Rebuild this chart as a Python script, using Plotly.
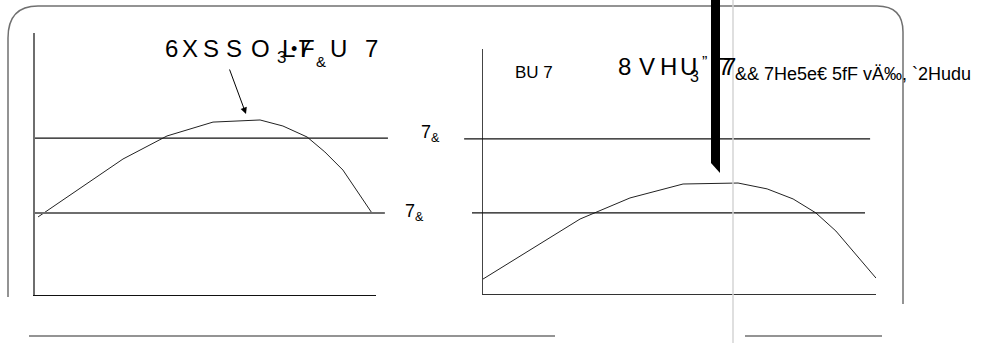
import plotly.graph_objects as go

W, H = 993, 343

# curve values (arbitrary units)
left_x = [0.9, 25.8, 38.7, 52.2, 66.0, 72.7, 79.8, 85.0, 90.3, 98.8]
left_y = [29.8, 51.9, 60.7, 66.0, 66.8, 64.5, 60.3, 54.6, 47.7, 31.3]
left_levels = [59.9, 31.3]

right_x = [0, 24.7, 37.4, 50.9, 64.9, 72.3, 78.9, 84.7, 89.8, 100]
right_y = [6.1, 30.6, 39.2, 44.9, 45.3, 42.9, 38.8, 33.1, 25.7, 6.5]
right_levels = [63.3, 33.1]

level_label = "7<sub>&amp;</sub>"


def px(x):
    return x / W


def py(y):
    return 1 - y / H


fig = go.Figure()
fig.add_trace(go.Scatter(x=left_x, y=left_y, mode="lines",
                         line=dict(color="#222", width=1), xaxis="x", yaxis="y"))
fig.add_trace(go.Scatter(x=right_x, y=right_y, mode="lines",
                         line=dict(color="#222", width=1), xaxis="x2", yaxis="y2"))

ax_common = dict(showgrid=False, zeroline=False, showticklabels=False, ticks="",
                 range=[0, 100], fixedrange=True)
fig.update_layout(
    width=W, height=H, margin=dict(l=0, r=0, t=0, b=0),
    paper_bgcolor="white", plot_bgcolor="rgba(0,0,0,0)", showlegend=False,
    font=dict(family="Liberation Sans, Arial, sans-serif", color="black"),
    xaxis=dict(domain=[px(35), px(376)], anchor="y", showline=True,
               linecolor="#111", linewidth=1.3, **ax_common),
    yaxis=dict(domain=[py(295), py(33)], anchor="x", showline=True,
               linecolor="#6e6e6e", linewidth=2, **ax_common),
    xaxis2=dict(domain=[px(483), px(876)], anchor="y2", showline=True,
                linecolor="#333", linewidth=1.3, **ax_common),
    yaxis2=dict(domain=[py(294), py(49)], anchor="x2", showline=True,
                linecolor="#444", linewidth=1.3, **ax_common),
)

shapes = []
# threshold lines
shapes.append(dict(type="line", xref="x domain", yref="y", x0=0, x1=1.035,
                   y0=left_levels[0], y1=left_levels[0], line=dict(color="#111", width=1.3)))
shapes.append(dict(type="line", xref="x domain", yref="y", x0=0, x1=1.026,
                   y0=left_levels[1], y1=left_levels[1], line=dict(color="#6e6e6e", width=1.8)))
shapes.append(dict(type="line", xref="x2 domain", yref="y2", x0=-0.048, x1=0.985,
                   y0=right_levels[0], y1=right_levels[0], line=dict(color="#111", width=1.3)))
shapes.append(dict(type="line", xref="x2 domain", yref="y2", x0=-0.028, x1=0.972,
                   y0=right_levels[1], y1=right_levels[1], line=dict(color="#111", width=1.3)))

# rounded frame
frame = (f"M {px(8)},{py(297)} L {px(8)},{py(38)} Q {px(8)},{py(6)} {px(38)},{py(6)} "
         f"L {px(877)},{py(6)} Q {px(903)},{py(6)} {px(903)},{py(32)} L {px(903)},{py(304)}")
shapes.append(dict(type="path", xref="paper", yref="paper", path=frame,
                   line=dict(color="#707070", width=1.5)))
# bottom rules
shapes.append(dict(type="line", xref="paper", yref="paper", x0=px(29), x1=px(555),
                   y0=py(336), y1=py(336), line=dict(color="#707070", width=1.5)))
shapes.append(dict(type="line", xref="paper", yref="paper", x0=px(745), x1=px(882),
                   y0=py(336), y1=py(336), line=dict(color="#707070", width=1.5)))
# faint vertical line
shapes.append(dict(type="line", xref="paper", yref="paper", x0=px(733), x1=px(733),
                   y0=0, y1=1, line=dict(color="#d4d4d4", width=1.5)))
# black bar
bar = (f"M {px(711)},{py(0)} L {px(720)},{py(0)} L {px(720)},{py(173)} "
       f"L {px(711)},{py(163)} Z")
shapes.append(dict(type="path", xref="paper", yref="paper", path=bar,
                   fillcolor="black", line=dict(color="black", width=0)))
fig.update_layout(shapes=shapes)


def txt(x, y, s, size, anchor="center"):
    fig.add_annotation(x=px(x), y=py(y), xref="paper", yref="paper", text=s,
                       showarrow=False, xanchor=anchor, yanchor="middle",
                       font=dict(size=size, color="black"))


# left title pieces
for ch, x in zip("6XSSO", [171, 190, 211, 234, 260]):
    txt(x, 49, ch, 24)
txt(281, 58, "3", 17)
txt(288, 49, "L", 24)
txt(294, 49, "•", 18)
txt(304, 49, "7", 24)
txt(307, 49, "F", 24)
txt(321, 61, "&amp;", 15)
txt(338, 49, "U", 24)
txt(371, 49, "7", 24)

# arrow to the curve peak
fig.add_annotation(x=px(246), y=py(114), xref="paper", yref="paper", text="",
                   showarrow=True, ax=-17, ay=-46, arrowhead=2, arrowsize=1.3,
                   arrowwidth=1, arrowcolor="black")

# level labels
txt(419, 133, level_label, 18, "left")
txt(403, 212, level_label, 18, "left")

# right header pieces
txt(513, 73, "BU 7", 17, "left")
for ch, x in zip("8VHU", [624, 647, 668, 688]):
    txt(x, 67, ch, 24)
txt(694, 76, "3", 16)
txt(704, 63, "”", 16)
txt(724, 67, "7", 24)
txt(729, 67, "7", 24)
txt(733, 74, "&amp;&amp; 7He5e€ 5fF vÄ‰, `2Hudu", 18, "left")

fig.write_html("out.html", config={"displayModeBar": False},
               post_script="document.body.style.margin='0';")
